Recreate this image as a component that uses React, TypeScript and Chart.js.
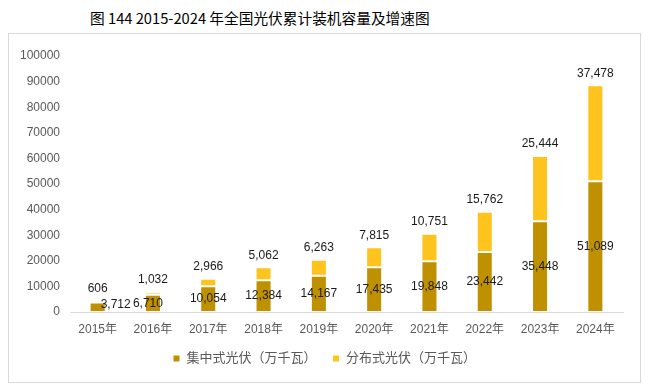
import React, { useEffect, useRef } from "react";
import { Chart, registerables } from "chart.js";

Chart.register(...registerables);

const categories = ["2015年", "2016年", "2017年", "2018年", "2019年", "2020年", "2021年", "2022年", "2023年", "2024年"];
const centralized = [3712, 6710, 10054, 12384, 14167, 17435, 19848, 23442, 35448, 51089];
const distributed = [606, 1032, 2966, 5062, 6263, 7815, 10751, 15762, 25444, 37478];
const seriesNames = ["集中式光伏（万千瓦）", "分布式光伏（万千瓦）"];
const titleText = "图 144 2015-2024 年全国光伏累计装机容量及增速图";

const DARK = "#BF9000";
const GOLD = "#FFC31E";
const FONT = "'Liberation Sans', 'Noto Sans CJK SC', sans-serif";

const fmt = (v: number) => v.toLocaleString("en-US");

const labelPlugin = {
  id: "valueLabels",
  afterDatasetsDraw(chart: any) {
    const ctx = chart.ctx;
    ctx.save();
    ctx.font = `12px ${FONT}`;
    ctx.fillStyle = "#1a1a1a";
    ctx.textBaseline = "middle";
    const m0 = chart.getDatasetMeta(0);
    const m1 = chart.getDatasetMeta(1);
    m0.data.forEach((bar: any, i: number) => {
      const v = chart.data.datasets[0].data[i];
      const cy = (bar.y + bar.base) / 2;
      if (i === 0) {
        ctx.textAlign = "left";
        ctx.fillText(fmt(v), bar.x + bar.width / 2 - 5, cy - 3);
      } else if (i === 1) {
        ctx.textAlign = "center";
        ctx.fillText(fmt(v), bar.x - 5, cy);
      } else {
        ctx.textAlign = "center";
        ctx.fillText(fmt(v), bar.x, cy);
      }
    });
    m1.data.forEach((bar: any, i: number) => {
      const v = chart.data.datasets[1].data[i];
      ctx.textAlign = "center";
      ctx.fillText(fmt(v), bar.x, bar.y - 12);
    });
    ctx.restore();
  },
};

export default function App() {
  const ref = useRef<HTMLCanvasElement>(null);
  useEffect(() => {
    if (!ref.current) return;
    const chart = new Chart(ref.current, {
      type: "bar",
      data: {
        labels: categories,
        datasets: [
          {
            label: seriesNames[0],
            data: centralized,
            backgroundColor: DARK,
            borderColor: "#ffffff",
            borderWidth: 1,
            borderSkipped: false,
            barPercentage: 0.29,
            categoryPercentage: 1,
          },
          {
            label: seriesNames[1],
            data: distributed,
            backgroundColor: GOLD,
            borderColor: "#ffffff",
            borderWidth: 1,
            borderSkipped: false,
            barPercentage: 0.29,
            categoryPercentage: 1,
          },
        ],
      },
      options: {
        animation: false,
        responsive: false,
        layout: { padding: { top: 22, right: 0, bottom: 7, left: 0 } },
        plugins: {
          legend: {
            position: "bottom",
            labels: {
              boxWidth: 7,
              boxHeight: 7,
              padding: 16,
              color: "#595959",
              font: { size: 13, family: FONT },
            },
          },
          tooltip: { enabled: false },
          title: { display: false },
        },
        scales: {
          x: {
            stacked: true,
            grid: { display: false, drawTicks: false },
            border: { display: true, color: "#D9D9D9", width: 1 },
            ticks: { color: "#595959", font: { size: 12, family: FONT }, padding: 10, maxRotation: 0 },
            afterFit: (s: any) => {
              s.height = 24;
            },
          },
          y: {
            stacked: true,
            min: 0,
            max: 100000,
            grid: { display: false, drawTicks: false },
            border: { display: false },
            ticks: {
              stepSize: 10000,
              color: "#595959",
              font: { size: 12, family: FONT },
              padding: 10,
              callback: (v: any) => String(v),
            },
            afterFit: (s: any) => {
              s.width = 61;
            },
          },
          yRight: {
            position: "right",
            display: true,
            grid: { display: false, drawTicks: false },
            border: { display: false },
            ticks: { display: false },
            afterFit: (s: any) => {
              s.width = 17;
            },
          },
        },
      },
      plugins: [labelPlugin],
    });
    return () => chart.destroy();
  }, []);

  return (
    <div style={{ width: 633 }}>
      <div
        style={{
          height: 25,
          lineHeight: "20px",
          paddingLeft: 82,
          fontFamily: "'Noto Sans CJK SC', sans-serif",
          fontSize: 14.7,
          fontWeight: 400,
          color: "#000",
          whiteSpace: "nowrap",
        }}
      >
        {titleText}
      </div>
      <div style={{ width: 633, height: 350, border: "1px solid #D9D9D9", boxSizing: "border-box" }}>
        <canvas ref={ref} width={631} height={348} style={{ display: "block" }} />
      </div>
    </div>
  );
}
